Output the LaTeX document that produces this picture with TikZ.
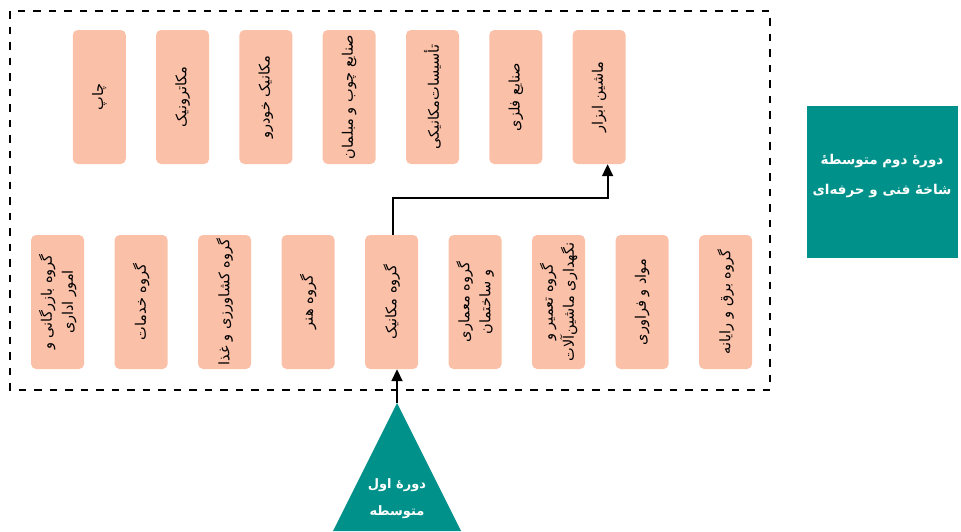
\documentclass[tikz,border=0pt]{standalone}
\usepackage{fontspec}
\setmainfont{DejaVu Sans}
\newfontfamily\arabicfont[Script=Arabic]{DejaVu Sans}
\TeXXeTstate=1
\usetikzlibrary{arrows.meta}
\definecolor{salmon}{RGB}{250,192,168}
\definecolor{tealc}{RGB}{0,145,138}
\tikzset{
  box/.style={fill=salmon, rounded corners=5pt, minimum width=53pt, minimum height=134pt, inner sep=0pt},
  lbl/.style={rotate=90, font=\arabicfont\fontsize{14.5}{21}\selectfont, align=center, inner sep=0pt},
  arr/.style={line width=1.8pt, -{Triangle[length=12pt,width=11pt]}},
  frame/.style={line width=2pt, dash pattern=on 7.5pt off 8pt},
  wlbl/.style={text=white, font=\arabicfont\bfseries\fontsize{13.5}{30}\selectfont, align=center, inner sep=0pt}
}
\begin{document}
\begin{tikzpicture}[x=1pt,y=-1pt]
\useasboundingbox (0,0) rectangle (961,531);
% frame
\draw[frame] (10,11) rectangle (770,390);
% top row
\node[box] (t1) at (99.3,97) {};
\node[box] (t2) at (182.6,97) {};
\node[box] (t3) at (265.9,97) {};
\node[box] (t4) at (349.2,97) {};
\node[box] (t5) at (432.5,97) {};
\node[box] (t6) at (515.8,97) {};
\node[box] (t7) at (599.1,97) {};
\node[lbl] at (t1) {\beginR چاپ\endR};
\node[lbl] at (t2) {\beginR مکاترونیک\endR};
\node[lbl] at (t3) {\beginR مکانیک خودرو\endR};
\node[lbl] at (t4) {\beginR صنایع چوب و مبلمان\endR};
\node[lbl] at (t5) {\beginR تأسیسات‌مکانیکی\endR};
\node[lbl] at (t6) {\beginR صنایع فلزی\endR};
\node[lbl] at (t7) {\beginR ماشین ابزار\endR};
% bottom row
\node[box] (b1) at (57.6,302) {};
\node[box] (b2) at (141.1,302) {};
\node[box] (b3) at (224.6,302) {};
\node[box] (b4) at (308.1,302) {};
\node[box] (b5) at (391.6,302) {};
\node[box] (b6) at (475.1,302) {};
\node[box] (b7) at (558.6,302) {};
\node[box] (b8) at (642.1,302) {};
\node[box] (b9) at (725.6,302) {};
\node[lbl] at (b1) {\beginR گروه بازرگانی و\endR\\\beginR امور اداری\endR};
\node[lbl] at (b2) {\beginR گروه خدمات\endR};
\node[lbl] at (b3) {\beginR گروه کشاورزی و غذا\endR};
\node[lbl] at (b4) {\beginR گروه هنر\endR};
\node[lbl] at (b5) {\beginR گروه مکانیک\endR};
\node[lbl] at (b6) {\beginR گروه معماری\endR\\\beginR و ساختمان\endR};
\node[lbl] at (b7) {\beginR گروه تعمیر و\endR\\\beginR نگهداری ماشین‌آلات\endR};
\node[lbl] at (b8) {\beginR مواد و فراوری\endR};
\node[lbl] at (b9) {\beginR گروه برق و رایانه\endR};
% arrow between rows
\draw[arr] ([xshift=1pt]b5.north) -- ++(0,-37) -| ([xshift=8.5pt]t7.south);
% right box
\node[fill=tealc, minimum width=151pt, minimum height=152pt, inner sep=0pt] (dom) at (882,182) {};
\node[wlbl] at (882,176) {\beginR دورهٔ دوم متوسطهٔ\endR\\\beginR شاخهٔ فنی و حرفه‌ای\endR};
% triangle
\coordinate (apex) at (397,403);
\fill[tealc] (apex) -- (333,531) -- (461,531) -- cycle;
\node[wlbl, font=\arabicfont\bfseries\fontsize{13}{27}\selectfont] (aval) at (397,499) {\beginR دورهٔ اول\endR\\\beginR متوسطه\endR};
\draw[arr] (apex) -- (apex |- b5.south);
\end{tikzpicture}
\end{document}
